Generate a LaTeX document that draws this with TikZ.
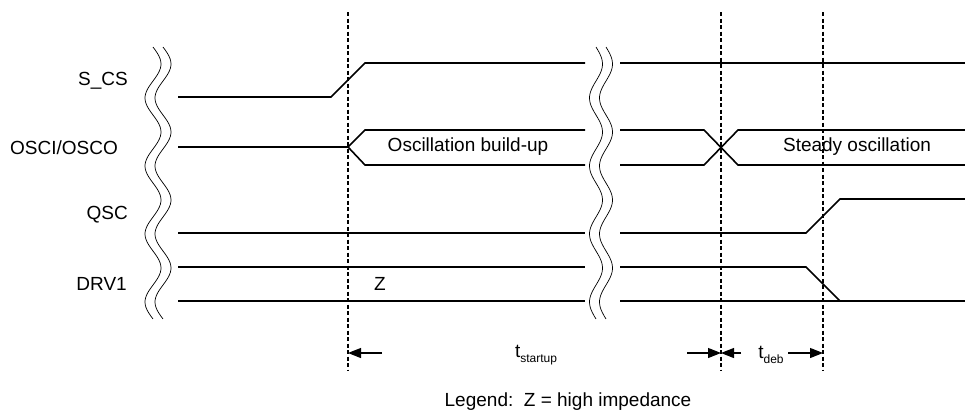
\documentclass[tikz,border=0pt]{standalone}
\usepackage{fontspec}
\setmainfont{Liberation Sans}
\usetikzlibrary{arrows.meta}
\begin{document}
\begin{tikzpicture}[x=1pt,y=-1pt,
  sig/.style={line width=1.6pt},
  brk/.style={line width=0.7pt},
  guide/.style={line width=1.2pt, dash pattern=on 4pt off 2.5pt},
  lbl/.style={font=\fontsize{19}{22}\selectfont, inner sep=0pt},
  dimarrow/.style={line width=1.1pt, -{Triangle[length=13pt,width=10pt]}},
]
\useasboundingbox (0,0) rectangle (965,413);

% guide lines
\coordinate (g1t) at (348,12);  \coordinate (g1b) at (348,370);
\coordinate (g2t) at (721,12);  \coordinate (g2b) at (721,370);
\coordinate (g3t) at (823,12);  \coordinate (g3b) at (823,370);
\draw[guide] (g1t) -- (g1b);
\draw[guide] (g2t) -- (g2b);
\draw[guide] (g3t) -- (g3b);

% labels
\node[lbl, anchor=east] (lcs)  at (128,81)  {S\_CS};
\node[lbl, anchor=east] (losc) at (118,148) {OSCI/OSCO};
\node[lbl, anchor=east] (lqsc) at (128,215) {QSC};
\node[lbl, anchor=east] (ldrv) at (127,284) {DRV1};

% S_CS
\draw[sig] (178,97) -- (331,97) -- (365,63) -- (585,63);
\draw[sig] (620,63) -- (965,63);

% OSCI/OSCO
\draw[sig] (178,147) -- (348,147) -- (365,130) -- (585,130);
\draw[sig] (348,147) -- (365,165) -- (585,165);
\draw[sig] (620,130) -- (704,130) -- (738,165) -- (965,165);
\draw[sig] (620,165) -- (704,165) -- (738,130) -- (965,130);
\node[lbl] (obu) at (468,147) {Oscillation build-up};
\node[lbl] (sto) at (857,147) {Steady oscillation};

% QSC
\draw[sig] (178,233) -- (585,233);
\draw[sig] (620,233) -- (806,233) -- (840,199) -- (965,199);

% DRV1
\draw[sig] (178,267) -- (585,267);
\draw[sig] (620,267) -- (806,267) -- (840,301);
\draw[sig] (178,301) -- (585,301);
\draw[sig] (620,301) -- (965,301);
\node[lbl] (zz) at (380,284) {Z};

% break marks
\foreach \yy in {47,115,183,251}{
  \foreach \xx/\aa in {153/8,163/8,596/6.5,606/6.5}{
    \draw[brk] plot[domain=0:1,samples=30,smooth,variable=\t]
      ({\xx+\aa*sin(360*\t)},{\yy+68*\t});
  }
}

% dimension arrows
\coordinate (a1) at (348,353);
\coordinate (a1s) at (382,353);
\coordinate (a2) at (721,353);
\coordinate (a2s) at (687,353);
\coordinate (a3s) at (741,353);
\coordinate (a4) at (823,353);
\coordinate (a4s) at (788,353);
\draw[dimarrow] (a1s) -- (a1);
\draw[dimarrow] (a2s) -- (a2);
\draw[dimarrow] (a3s) -- (a2);
\draw[dimarrow] (a4s) -- (a4);
\node[lbl] (tsu) at (536,355) {t\raisebox{-0.55ex}{\fontsize{12}{12}\selectfont startup}};
\node[lbl] (tdb) at (771,355) {t\raisebox{-0.55ex}{\fontsize{12}{12}\selectfont deb}};

\node[lbl] (leg) at (568,402) {Legend:\ \ Z = high impedance};
\end{tikzpicture}
\end{document}
